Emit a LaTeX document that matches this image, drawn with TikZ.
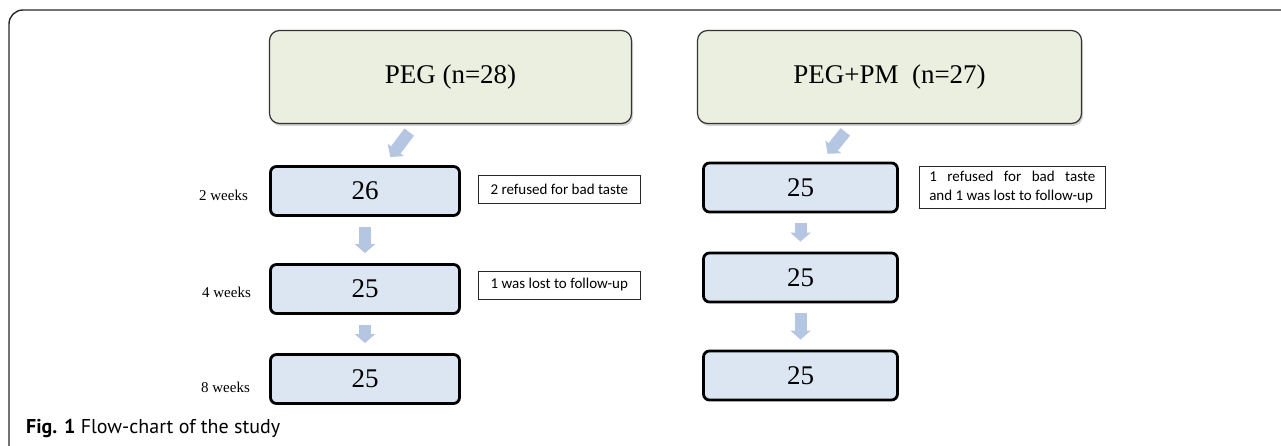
\documentclass[tikz,border=0pt]{standalone}
\usepackage{fontspec}
\setmainfont{Liberation Serif}
\newfontfamily\notefont{Carlito}
\newfontfamily\capfont{PT Sans}
\usetikzlibrary{positioning,shadows,arrows.meta}

\definecolor{boxgreen}{RGB}{235,239,223}
\definecolor{boxblue}{RGB}{220,230,242}
\definecolor{arrowblue}{RGB}{180,198,226}
\definecolor{framegray}{RGB}{40,40,40}

\tikzset{
  armbox/.style={draw=black!80, line width=1.2pt, fill=boxgreen, rounded corners=10pt,
    minimum height=93pt, font=\fontsize{27}{30}\selectfont,
    drop shadow={shadow xshift=1.5pt, shadow yshift=-2.5pt, opacity=0.35}},
  countbox/.style={draw=black, line width=2.8pt, fill=boxblue, rounded corners=6pt,
    minimum height=49pt, font=\fontsize{27}{30}\selectfont},
  weeklabel/.style={inner sep=0pt, font=\fontsize{15}{18}\selectfont},
  notebox/.style={draw=black!85, line width=0.8pt, inner xsep=10pt, inner ysep=5pt,
    font=\notefont\fontsize{15}{19}\selectfont},
  flowarrow/.style={draw=arrowblue, line width=12pt, -{Triangle[width=20pt,length=9pt]},
    shorten <=10pt, shorten >=10pt}
}

\begin{document}
\begin{tikzpicture}[x=1pt,y=-1pt]
\useasboundingbox (0,0) rectangle (1281,446);
\draw[framegray, line width=1.4pt, rounded corners=14pt] (9,446) -- (9,10) -- (1281,10);

\node[armbox, minimum width=362pt] (peg) at (450.5,77) {PEG (n=28)};
\node[armbox, minimum width=384pt] (pegpm) at (889.5,77) {PEG+PM\ \ (n=27)};

\node[countbox, minimum width=189pt] (l1) at (365,191) {26};
\node[countbox, minimum width=189pt] (l2) at (365,289) {25};
\node[countbox, minimum width=189pt] (l3) at (365,379) {25};

\node[countbox, minimum width=194pt] (r1) at (800.5,187.5) {25};
\node[countbox, minimum width=194pt] (r2) at (800.5,277.5) {25};
\node[countbox, minimum width=194pt] (r3) at (800.5,375.5) {25};

\node[weeklabel, left=21pt of l1, yshift=-4pt] (w2) {2 weeks};
\node[weeklabel, left=18pt of l2, yshift=-3pt] (w4) {4 weeks};
\node[weeklabel, left=19pt of l3, yshift=-8pt] (w8) {8 weeks};

\node[notebox, minimum width=162pt, minimum height=28pt, right=17pt of l1, yshift=2pt] (n1) {2 refused for bad taste};
\node[notebox, minimum width=162pt, minimum height=28pt, right=17pt of l2, yshift=4pt] (n2) {1 was lost to follow-up};
\node[notebox, text width=166pt, align=justify, right=20pt of r1] (n3) {1 refused for bad taste\linebreak and 1 was lost to follow-up};

\draw[flowarrow] (peg) -- (l1);
\draw[flowarrow] (l1) -- (l2);
\draw[flowarrow] (l2) -- (l3);

\draw[flowarrow] (pegpm) -- (r1);
\draw[flowarrow] (r1) -- (r2);
\draw[flowarrow] (r2) -- (r3);

\node[anchor=base west, inner sep=0pt, font=\capfont\fontsize{20}{24}\selectfont] (cap) at (26,433) {\bfseries Fig. 1\mdseries\ Flow-chart of the study};
\end{tikzpicture}
\end{document}
